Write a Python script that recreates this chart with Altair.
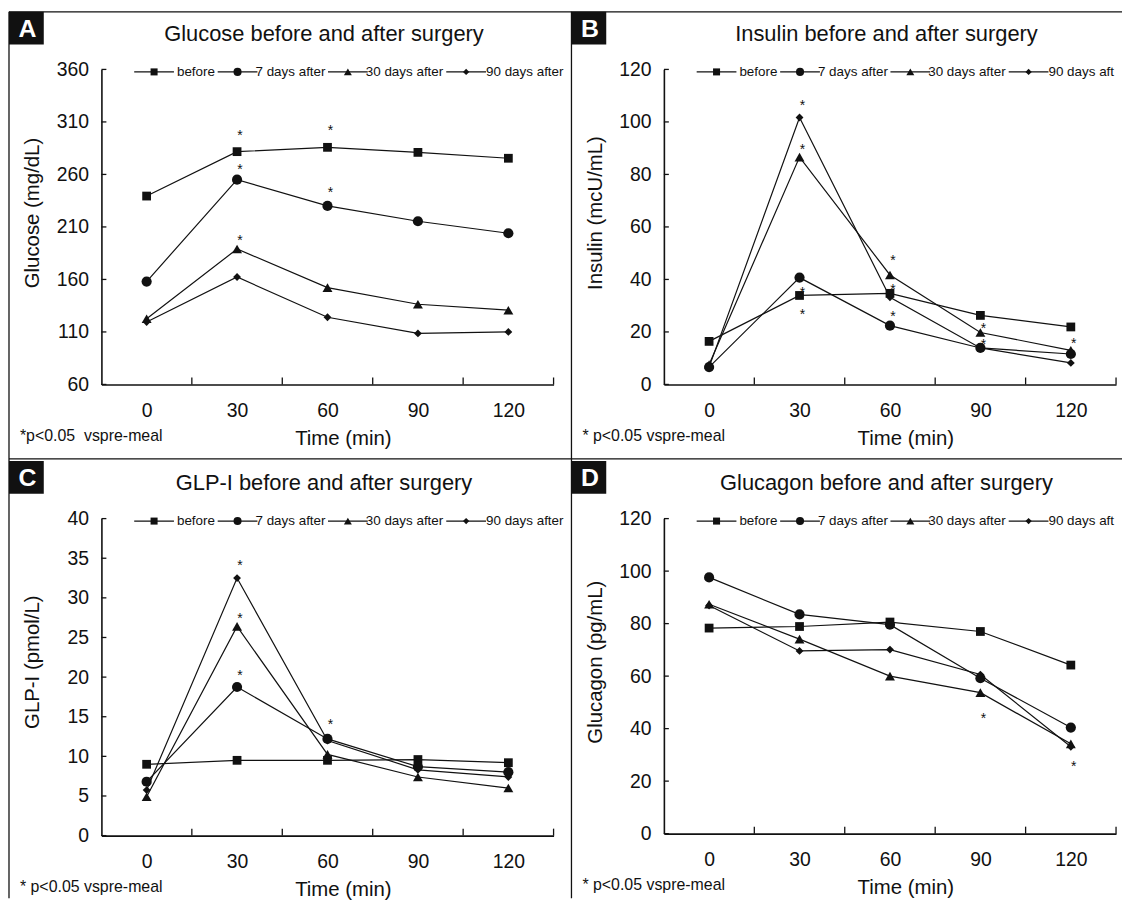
import altair as alt
import pandas as pd

# ---------------- data ----------------
times = [0, 30, 60, 90, 120]
series = ["before", "7 days after", "30 days after", "90 days after"]
x_tick_marks = [15, 45, 75, 105, 135]

glucose_before = [239.4, 281.7, 285.8, 281.0, 275.4]
glucose_7d = [158.0, 255.0, 230.0, 215.4, 204.0]
glucose_30d = [122.5, 189.0, 152.2, 136.4, 130.7]
glucose_90d = [119.4, 162.3, 124.0, 108.6, 110.0]
glucose_star_time = [30, 60, 30, 60, 30]
glucose_star_value = [300.0, 305.4, 268.4, 245.7, 200.2]
glucose_ticks = [60, 110, 160, 210, 260, 310, 360]

insulin_before = [16.4, 33.9, 34.7, 26.3, 21.9]
insulin_7d = [6.6, 40.7, 22.4, 13.9, 11.6]
insulin_30d = [7.6, 86.6, 41.7, 19.8, 13.0]
insulin_90d = [6.6, 101.7, 33.2, 13.9, 8.2]
insulin_star_time = [30, 30, 30, 30, 60, 60, 60, 90, 90, 120]
insulin_star_value = [107.4, 90.9, 36.2, 27.8, 48.5, 37.6, 27.2, 22.7, 16.4, 17.1]
insulin_ticks = [0, 20, 40, 60, 80, 100, 120]

glp_before = [9.0, 9.5, 9.5, 9.6, 9.2]
glp_7d = [6.8, 18.75, 12.2, 8.7, 8.0]
glp_30d = [4.9, 26.4, 10.25, 7.4, 6.0]
glp_90d = [5.75, 32.5, 12.0, 8.3, 7.4]
glp_star_time = [30, 30, 30, 60]
glp_star_value = [34.5, 27.8, 20.7, 14.4]
glp_ticks = [0, 5, 10, 15, 20, 25, 30, 35, 40]

glucagon_before = [78.3, 78.9, 80.6, 77.0, 64.2]
glucagon_7d = [97.6, 83.5, 79.6, 59.2, 40.4]
glucagon_30d = [87.4, 74.1, 60.0, 53.7, 34.2]
glucagon_90d = [86.9, 69.6, 70.1, 60.6, 33.1]
glucagon_star_time = [90, 120]
glucagon_star_value = [45.2, 26.8]
glucagon_ticks = [0, 20, 40, 60, 80, 100, 120]

# ---------------- style / layout ----------------
FONT = "Liberation Sans, Arial, Helvetica, sans-serif"
INK = "#111111"
W = 455
shapes = ["square", "circle", "triangle-up", "diamond"]
sizes = [78, 105, 100, 62]
legend_sizes = [50, 66, 64, 40]
legend_sym_x = [53, 137, 248, 367]      # legend symbol centres (px from plot left)
legend_text_x = [76, 155, 266, 387]     # legend label starts (px from plot left)
LEG_Y = 2.5


def make_df(vals):
    rows = []
    for s, v in zip(series, vals):
        for t, y in zip(times, v):
            rows.append({"time": t, "value": y, "series": s})
    return pd.DataFrame(rows)


def one(**kw):
    return pd.DataFrame({k: [v] for k, v in kw.items()})


def panel(letter, title, ytitle, ydomain, yticks, vals, star_t, star_v, note,
          H=317, frame=False, last_label_limit=0):
    df = make_df(vals)
    xs = alt.Scale(domain=[-15, 135], nice=False, zero=False)
    ys = alt.Scale(domain=ydomain, nice=False, zero=False)
    xe = alt.X("time:Q", scale=xs, axis=alt.Axis(
        values=times, title="Time (min)", titleX=243, titleY=54,
        titleAlign="center", titleBaseline="middle", labelPadding=17,
        ticks=False, tickSize=0, grid=False, format="d"))
    ye = alt.Y("value:Q", scale=ys, axis=alt.Axis(
        values=yticks, title=ytitle, titleX=-69, titleY=144, titleAngle=270,
        titleAlign="center", titleBaseline="middle", labelPadding=13,
        ticks=False, tickSize=0, grid=False, format="d"))

    layers = []
    if frame:
        lw = 1.3
        layers.append(alt.Chart(one(k=1)).mark_rule(color=INK, strokeWidth=lw).encode(
            x=alt.value(-93), x2=alt.value(1027), y=alt.value(-58)))
        layers.append(alt.Chart(one(k=1)).mark_rule(color=INK, strokeWidth=lw).encode(
            x=alt.value(-93), x2=alt.value(1027), y=alt.value(392)))
        layers.append(alt.Chart(one(k=1)).mark_rule(color=INK, strokeWidth=lw).encode(
            x=alt.value(-93), y=alt.value(-58), y2=alt.value(834)))
        layers.append(alt.Chart(one(k=1)).mark_rule(color=INK, strokeWidth=lw).encode(
            x=alt.value(473), y=alt.value(-58), y2=alt.value(834)))

    # panel letter box
    layers.append(alt.Chart(one(k=1)).mark_rect(color=INK).encode(
        x=alt.value(-93), x2=alt.value(-58), y=alt.value(-58), y2=alt.value(-25)))
    layers.append(alt.Chart(one(lab=letter)).mark_text(
        color="white", font=FONT, fontSize=25, fontWeight="bold",
        align="center", baseline="alphabetic").encode(
        x=alt.value(-74.5), y=alt.value(-32.5), text="lab:N"))
    # title
    layers.append(alt.Chart(one(lab=title)).mark_text(
        color=INK, font=FONT, fontSize=22, align="center", baseline="alphabetic").encode(
        x=alt.value(224), y=alt.value(-29), text="lab:N"))
    # footnote
    layers.append(alt.Chart(one(lab=note)).mark_text(
        color=INK, font=FONT, fontSize=16, align="left", baseline="middle").encode(
        x=alt.value(-82), y=alt.value(H + 52), text="lab:N"))

    # inward tick marks
    layers.append(alt.Chart(pd.DataFrame({"value": yticks})).mark_rule(
        color=INK, strokeWidth=1.3).encode(y=ye, x=alt.value(0), x2=alt.value(5)))
    layers.append(alt.Chart(pd.DataFrame({"time": x_tick_marks})).mark_rule(
        color=INK, strokeWidth=1.3).encode(x=xe, y=alt.value(H), y2=alt.value(H - 7)))

    # data
    layers.append(alt.Chart(df).mark_line(color=INK, strokeWidth=1.2).encode(
        x=xe, y=ye, detail="series:N"))
    for s, sh, sz in zip(series, shapes, sizes):
        layers.append(alt.Chart(df).transform_filter(alt.datum.series == s).mark_point(
            shape=sh, size=sz, filled=True, color=INK, opacity=1).encode(x=xe, y=ye))
    layers.append(alt.Chart(pd.DataFrame({"time": star_t, "value": star_v})).mark_text(
        text="*", font=FONT, fontSize=14, dx=3, dy=4, color=INK).encode(x=xe, y=ye))

    # legend: line segment + marker + label for each series
    for i, (s, sh, lsz, sx, tx) in enumerate(
            zip(series, shapes, legend_sizes, legend_sym_x, legend_text_x)):
        ldf = one(series=s)
        layers.append(alt.Chart(ldf).mark_rule(color=INK, strokeWidth=1.2).encode(
            x=alt.value(sx - 20), x2=alt.value(sx + 20), y=alt.value(LEG_Y)))
        layers.append(alt.Chart(ldf).mark_point(
            shape=sh, size=lsz, filled=True, color=INK, opacity=1).encode(
            x=alt.value(sx), y=alt.value(LEG_Y)))
        text_kw = dict(font=FONT, fontSize=13.5, color=INK, align="left", baseline="middle")
        if last_label_limit and i == len(series) - 1:
            text_kw.update(limit=last_label_limit, ellipsis=" ")
        layers.append(alt.Chart(ldf).mark_text(**text_kw).encode(
            x=alt.value(tx), y=alt.value(LEG_Y), text="series:N"))

    return alt.layer(*layers).properties(width=W, height=H)


pA = panel("A", "Glucose before and after surgery", "Glucose (mg/dL)", [60, 360], glucose_ticks,
           [glucose_before, glucose_7d, glucose_30d, glucose_90d],
           glucose_star_time, glucose_star_value, "*p<0.05\u00a0 vspre-meal", frame=True)
pB = panel("B", "Insulin before and after surgery", "Insulin (mcU/mL)", [0, 120], insulin_ticks,
           [insulin_before, insulin_7d, insulin_30d, insulin_90d],
           insulin_star_time, insulin_star_value, "* p<0.05 vspre-meal",
           last_label_limit=74)
pC = panel("C", "GLP-I before and after surgery", "GLP-I (pmol/L)", [0, 40], glp_ticks,
           [glp_before, glp_7d, glp_30d, glp_90d],
           glp_star_time, glp_star_value, "* p<0.05 vspre-meal", H=319)
pD = panel("D", "Glucagon before and after surgery", "Glucagon (pg/mL)", [0, 120], glucagon_ticks,
           [glucagon_before, glucagon_7d, glucagon_30d, glucagon_90d],
           glucagon_star_time, glucagon_star_value, "* p<0.05 vspre-meal", H=317,
           last_label_limit=74)

chart = alt.concat(
    pA, pB, pC, pD, columns=2,
    spacing={"row": 135, "column": 111}, bounds="flush",
).configure_view(
    stroke=None
).configure_axis(
    domainColor=INK, domainWidth=1.6, labelFont=FONT, labelFontSize=19.5,
    labelColor=INK, titleFont=FONT, titleFontSize=20.5, titleFontWeight="normal",
    titleColor=INK,
).properties(padding={"left": 0, "top": 0, "right": 0, "bottom": 0})

chart.save("out.html", embed_options={"renderer": "svg", "actions": False})
